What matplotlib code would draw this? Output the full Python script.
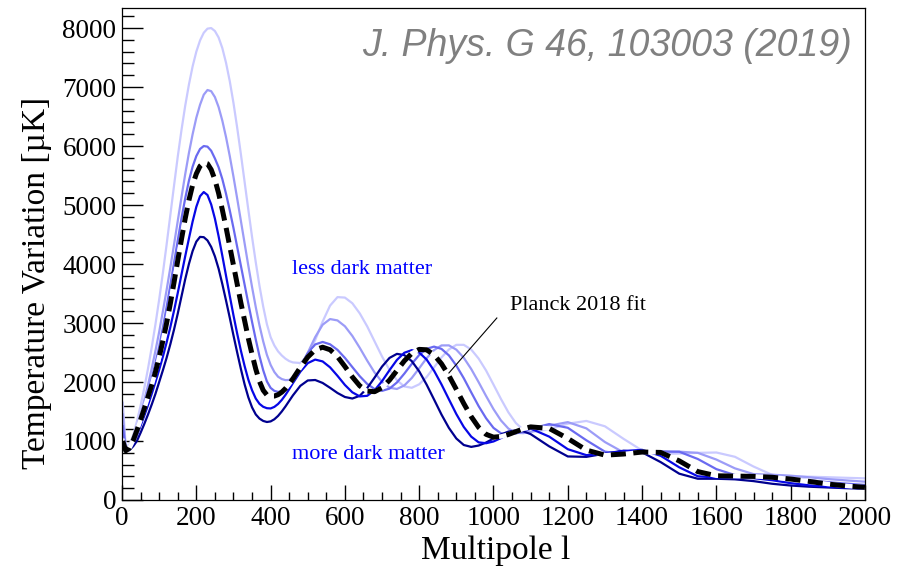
import matplotlib
matplotlib.use("Agg")
import matplotlib.pyplot as plt
from matplotlib.ticker import MultipleLocator

ell = [2, 10, 20, 30, 40, 50, 60, 70, 80, 90, 100, 110, 120, 130, 140, 150, 160, 170, 180, 190,
       200, 210, 220, 230, 240, 250, 260, 270, 280, 290, 300, 310, 320, 330, 340, 350, 360, 370,
       380, 390, 400, 410, 420, 430, 440, 450,
       460, 480, 500, 520, 540, 560, 580, 600, 620, 640, 660, 680, 700, 720, 740, 760, 780, 800,
       820, 840, 860, 880, 900, 920, 940, 960, 980, 1000, 1020, 1040, 1060, 1080, 1100,
       1150, 1200, 1250, 1300, 1350, 1400, 1450, 1500, 1550, 1600, 1650, 1700, 1750, 1800, 1850,
       1900, 1950, 2000]

# least dark matter -> most dark matter
dm_lowest = [1650, 900, 940, 1100, 1330, 1600, 1900, 2230, 2590, 2980, 3400, 3850, 4330, 4830,
             5330, 5820, 6270, 6680, 7040, 7350, 7600, 7790, 7920, 7990, 8000, 7950, 7840, 7660,
             7410, 7100, 6730, 6310, 5860, 5390, 4920, 4460, 4030, 3630, 3280, 2980, 2760, 2620,
             2520, 2450, 2395, 2355,
             2332, 2322, 2450, 2711, 3024, 3295, 3439, 3431, 3335, 3163, 2943, 2687, 2432, 2205,
             2029, 1925, 1902, 1961, 2085, 2248, 2417, 2552, 2630, 2630, 2551, 2397, 2195, 1956,
             1713, 1487, 1306, 1190, 1150,
             1198, 1293, 1340, 1249, 1037, 839, 780, 788, 799, 805, 732, 567, 427, 400, 395, 386,
             376, 367]
dm_low = [1450, 870, 900, 1040, 1230, 1450, 1690, 1950, 2230, 2530, 2850, 3200, 3560, 3940, 4330,
          4730, 5130, 5520, 5880, 6200, 6480, 6700, 6870, 6950, 6930, 6830, 6660, 6430, 6150,
          5830, 5480, 5110, 4730, 4350, 3970, 3610, 3270, 2960, 2690, 2460, 2290, 2170, 2090,
          2050, 2032, 2035,
          2075, 2244, 2496, 2761, 2971, 3067, 3044, 2945, 2781, 2579, 2362, 2160, 2000, 1903,
          1882, 1942, 2068, 2233, 2404, 2541, 2620, 2621, 2548, 2411, 2220, 1997, 1763, 1540,
          1349, 1211, 1139, 1133, 1154,
          1259, 1320, 1214, 982, 807, 793, 807, 819, 799, 685, 536, 439, 428, 412, 385, 355, 332,
          310]
dm_mid = [1250, 850, 880, 1000, 1180, 1380, 1600, 1830, 2060, 2320, 2600, 2920, 3270, 3640, 4020,
          4400, 4770, 5110, 5410, 5650, 5830, 5950, 6000, 5990, 5920, 5790, 5640, 5440, 5190,
          4910, 4610, 4290, 3970, 3650, 3330, 3020, 2720, 2440, 2200, 2010, 1900, 1850, 1832,
          1845, 1890, 1960,
          2053, 2272, 2488, 2637, 2679, 2639, 2545, 2409, 2253, 2098, 1967, 1880, 1850, 1888,
          1992, 2142, 2308, 2458, 2563, 2600, 2561, 2451, 2277, 2064, 1825, 1591, 1386, 1222,
          1131, 1111, 1127, 1162, 1206,
          1287, 1224, 1012, 819, 782, 802, 825, 818, 695, 523, 423, 418, 400, 372, 335, 302, 277,
          255]
dm_high = [950, 830, 860, 960, 1100, 1260, 1430, 1610, 1800, 2000, 2210, 2430, 2670, 2930, 3210,
           3510, 3820, 4130, 4430, 4720, 4970, 5150, 5220, 5170, 5010, 4770, 4470, 4140, 3800,
           3460, 3130, 2820, 2530, 2270, 2040, 1860, 1720, 1630, 1580, 1556, 1552, 1578, 1627,
           1696, 1781, 1878,
           1981, 2174, 2320, 2380, 2349, 2249, 2105, 1950, 1825, 1756, 1766, 1860, 2015, 2200,
           2374, 2496, 2540, 2499, 2380, 2191, 1959, 1706, 1456, 1238, 1074, 977, 962, 992, 1049,
           1117, 1176, 1210, 1211,
           1074, 861, 760, 784, 830, 850, 749, 554, 402, 380, 383, 370, 335, 285, 248, 226, 210,
           200]
dm_highest = [900, 830, 845, 910, 1000, 1140, 1290, 1450, 1620, 1800, 2000, 2200, 2410, 2640,
              2890, 3160, 3450, 3740, 4000, 4220, 4380, 4460, 4455, 4400, 4290, 4130, 3920, 3660,
              3380, 3090, 2790, 2500, 2220, 1960, 1740, 1570, 1450, 1380, 1340, 1322, 1332, 1368,
              1425, 1500, 1586, 1680,
              1773, 1935, 2026, 2034, 1984, 1902, 1814, 1746, 1720, 1766, 1897, 2076, 2262, 2408,
              2477, 2456, 2354, 2181, 1955, 1703, 1448, 1221, 1042, 932, 900, 923, 974, 1042,
              1109, 1159, 1180, 1165, 1117,
              909, 738, 731, 786, 835, 808, 642, 446, 360, 360, 350, 320, 275, 245, 225, 212, 200,
              190]
planck_2018 = [1000, 835, 880, 1010, 1180, 1360, 1550, 1750, 1950, 2170, 2420, 2700, 3000, 3330,
               3690, 4060, 4420, 4770, 5080, 5340, 5530, 5660, 5720, 5700, 5600, 5430, 5200, 4920,
               4620, 4300, 3980, 3660, 3340, 3040, 2740, 2470, 2220, 2010, 1860, 1780, 1762, 1762,
               1785, 1828, 1890, 1968,
               2055, 2247, 2423, 2546, 2590, 2547, 2430, 2263, 2086, 1935, 1845, 1836, 1903, 2032,
               2195, 2358, 2486, 2553, 2546, 2460, 2309, 2107, 1874, 1635, 1413, 1231, 1113, 1065,
               1076, 1110, 1158, 1205, 1239,
               1213, 1043, 846, 760, 779, 813, 806, 663, 481, 410, 405, 400, 385, 355, 315, 270,
               238, 215]

serif = "Liberation Serif"

fig = plt.figure(figsize=(9.08, 5.72), dpi=100)
ax = fig.add_axes([0.1344, 0.1259, 0.8182, 0.8601])

# light to dark, drawn in that order
ax.plot(ell, dm_lowest, color="#cacaff", lw=1.6)
ax.plot(ell, dm_low, color="#9c9cf7", lw=1.6)
ax.plot(ell, dm_mid, color="#6a6af0", lw=1.6)
ax.plot(ell, dm_highest, color="#00008f", lw=1.6)
ax.plot(ell, dm_high, color="#0707e6", lw=1.6)
ax.plot(ell, planck_2018, color="white", lw=3.2)
ax.plot(ell, planck_2018, color="black", lw=3.6, linestyle=(0, (3.0, 1.5)))

ax.set_xlim(0, 2000)
ax.set_ylim(0, 8340)
ax.xaxis.set_major_locator(MultipleLocator(200))
ax.xaxis.set_minor_locator(MultipleLocator(50))
ax.yaxis.set_major_locator(MultipleLocator(1000))
ax.yaxis.set_minor_locator(MultipleLocator(200))
ax.tick_params(which="both", direction="in", top=False, right=False, width=1)
ax.tick_params(axis="y", which="major", length=15, pad=4)
ax.tick_params(axis="y", which="minor", length=8.5)
ax.tick_params(axis="x", which="major", length=11, pad=4)
ax.tick_params(axis="x", which="minor", length=6)
for lab in ax.get_xticklabels() + ax.get_yticklabels():
    lab.set_fontfamily(serif)
    lab.set_fontsize(19.5)
for sp in ax.spines.values():
    sp.set_linewidth(0.9)

fig.text(496 / 908, 1 - 551 / 572, "Multipole l", family=serif, fontsize=24,
         ha="center", va="center")
fig.text(37 / 908, 1 - 283 / 572, "Temperature Variation [µK]", family=serif, fontsize=24,
         rotation=90, ha="center", va="center")

ax.text(458, 3900, "less dark matter", color="#0000ff", family=serif, fontsize=16,
        ha="left", va="center")
ax.text(458, 763, "more dark matter", color="#0000ff", family=serif, fontsize=16,
        ha="left", va="center")
ax.text(1044, 3290, "Planck 2018 fit", color="black", family=serif, fontsize=16,
        ha="left", va="center")
ax.plot([1009, 880], [3085, 2153], color="black", lw=0.8)

ax.text(0.9825, 0.922, "J. Phys. G 46, 103003 (2019)", transform=ax.transAxes,
        color="#808080", family="Liberation Sans", style="italic", fontsize=27,
        ha="right", va="center")

fig.savefig("out.png", dpi=100)
